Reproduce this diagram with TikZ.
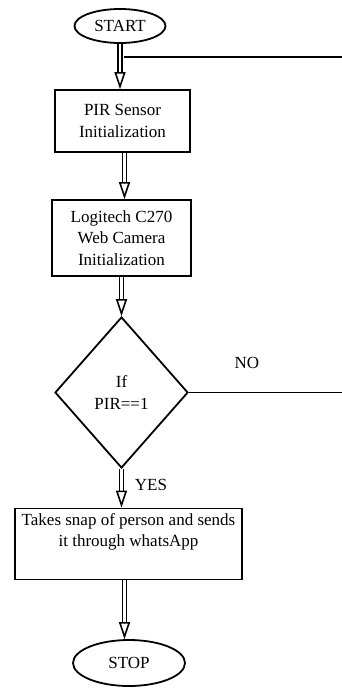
\documentclass[tikz,border=0pt]{standalone}
\usepackage{fontspec}
\setmainfont{Liberation Serif}
\usetikzlibrary{shapes.geometric,arrows.meta}

\tikzset{
  term/.style={draw, ellipse, line width=1.8pt, inner sep=0pt},
  box/.style={draw, rectangle, line width=1.8pt, inner sep=2pt, align=center},
  test/.style={draw, diamond, line width=1.8pt, inner sep=0pt, align=center},
  flow/.style={double, double distance=2.6pt, line width=1.6pt,
    -{Triangle[open, length=17pt, width=11pt, line width=1.6pt]}},
  wire/.style={line width=1.8pt}
}

\begin{document}
\begin{tikzpicture}[x=1pt, y=-1pt, font=\fontsize{17}{21.5}\selectfont]
        \useasboundingbox (0,0) rectangle (342,688);
        % flow blocks
        \node[term, minimum width=91pt, minimum height=34pt] (start) at (120,26) {START};
        \node[box, minimum width=135pt, minimum height=62pt] (pir) at (122.5,121) {PIR Sensor\\Initialization};
        \node[box, minimum width=139pt, minimum height=76pt] (cam) at (121.5,238) {Logitech C270\\Web Camera\\Initialization};
        \node[test, minimum width=133pt, minimum height=151pt] (cond) at (121.5,392.5) {If\\PIR==1};
        \node[box, minimum width=227pt, minimum height=71pt] (snap) at (128.5,544) {Takes snap of person and sends\\it through whatsApp\\[6pt]};
        \node[term, minimum width=112pt, minimum height=46pt] (stop) at (129,663) {STOP};
        % labels
        \node (no) at (247,363) {NO};
        \node (yes) at (151,485) {YES};
        % loop back ends
        \coordinate (backin) at (124,57);
        \coordinate (backout) at (342,57);
        \coordinate (noout) at (342,392.5);
        % arrows
        \draw[flow] (start.south) -- (start.south |- pir.north);
        \draw[flow] ([xshift=2pt]pir.south) -- ([xshift=2pt]pir.south |- cam.north);
        \draw[flow] (cam.south) -- (cond.north);
        \draw[flow] (cond.south) -- (cond.south |- snap.north);
        \draw[flow] ([xshift=-4pt]snap.south) -- ([xshift=-4pt]snap.south |- stop.north);
        % NO path back to the top
        \draw[wire] (cond.east) -- (noout);
        \draw[wire] (backin) -- (backout);
\end{tikzpicture}
\end{document}
